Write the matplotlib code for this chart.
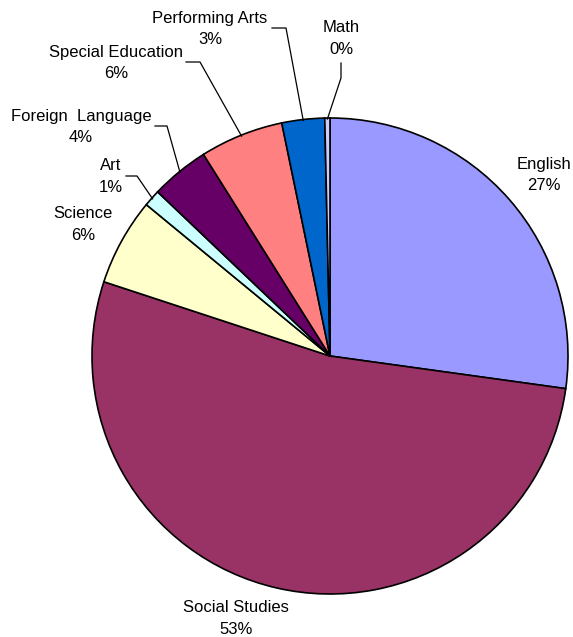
import numpy as np
import matplotlib
matplotlib.use("Agg")
import matplotlib.pyplot as plt

categories = ["English", "Social Studies", "Science", "Art", "Foreign  Language",
              "Special Education", "Performing Arts", "Math"]
values = [27.19, 52.86, 5.92, 1.14, 3.97, 5.67, 2.9, 0.35]
colors = ["#9999FF", "#993366", "#FFFFCC", "#CCFFFF", "#660066",
          "#FF8080", "#0066CC", "#CCCCFF"]

W, H = 573, 637
fig = plt.figure(figsize=(W / 100, H / 100), dpi=100)
ax = fig.add_axes([0, 0, 1, 1])

def P(x, y):
    return x, H - y

cx, cy = P(330, 356)
R = 238
wedges, _ = ax.pie(values, colors=colors, startangle=90, counterclock=False,
                   center=(cx, cy), radius=R, frame=True,
                   wedgeprops=dict(edgecolor="black", linewidth=1.2))
ax.set_xlim(0, W)
ax.set_ylim(0, H)
ax.set_aspect("equal")
ax.axis("off")

font = dict(family=["Liberation Sans", "DejaVu Sans"], fontsize=12, ha="center", va="center")

# label text centers (first line), and leader elbow points
label_pos = {
    "English": (544, 164),
    "Social Studies": (236, 608),
    "Science": (83, 214),
    "Art": (111, 165),
    "Foreign  Language": (81, 116),
    "Special Education": (116, 52),
    "Performing Arts": (210, 18),
    "Math": (341, 27),
}
leaders = {
    "Art": [(126, 176), (137, 176)],
    "Foreign  Language": [(155, 126), (167, 126)],
    "Special Education": [(186, 62), (200, 62)],
    "Performing Arts": [(272, 28), (286, 28)],
    "Math": [(341, 63), (341, 78)],
}

for w, cat, v in zip(wedges, categories, values):
    lx, ly = label_pos[cat]
    ax.text(*P(lx, ly), cat, **font)
    ax.text(*P(lx, ly + 22), "%.0f%%" % v, **font)
    if cat in leaders:
        mid = np.deg2rad((w.theta1 + w.theta2) / 2)
        ex, ey = cx + (R - 1) * np.cos(mid), cy + (R - 1) * np.sin(mid)
        pts = [P(*p) for p in leaders[cat]] + [(ex, ey)]
        xs, ys = zip(*pts)
        ax.plot(xs, ys, color="black", linewidth=0.9)

fig.savefig("out.png", dpi=100, facecolor="white")
